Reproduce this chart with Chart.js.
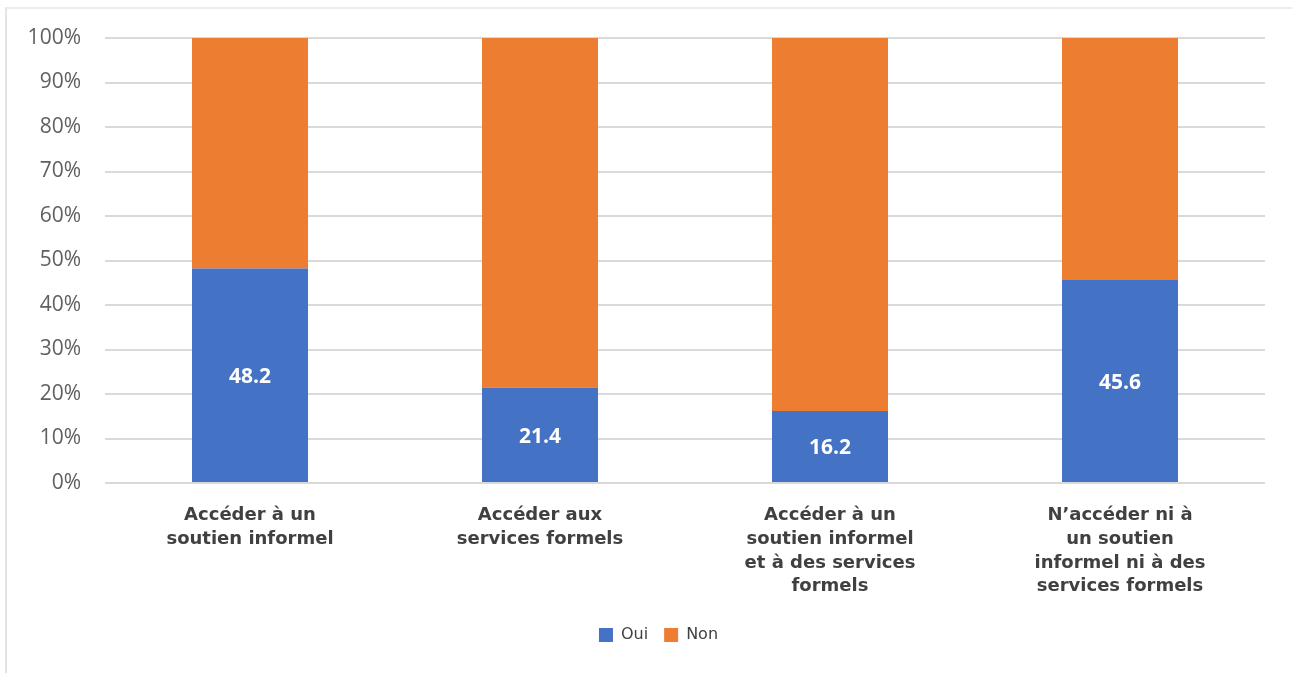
<!DOCTYPE html>
<html>
<head>
<meta charset="utf-8">
<script src="https://cdn.jsdelivr.net/npm/chart.js@4.4.1/dist/chart.umd.min.js"></script>
<style>
  html, body { margin: 0; padding: 0; background: #fff; }
  #frame {
    position: absolute;
    left: 5px;
    top: 7px;
    width: 1287px;
    height: 666px;
    border-left: 2px solid #e4e4e4;
    border-top: 2px solid #ececec;
  }
  #chart { position: absolute; left: 0; top: 0; }
</style>
</head>
<body>
<div id="frame"></div>
<canvas id="chart" width="1292" height="673"></canvas>
<script>
const categories = [
  ["Accéder à un", "soutien informel"],
  ["Accéder aux", "services formels"],
  ["Accéder à un", "soutien informel", "et à des services", "formels"],
  ["N’accéder ni à", "un soutien", "informel ni à des", "services formels"],
];
const oui = [48.2, 21.4, 16.2, 45.6];
const non = [51.8, 78.6, 83.8, 54.4];

// white value labels in the middle of the "Oui" segments
const barLabels = {
  id: "barLabels",
  afterDatasetsDraw(chart) {
    const ctx = chart.ctx;
    const meta = chart.getDatasetMeta(0);
    ctx.save();
    ctx.fillStyle = "#ffffff";
    ctx.font = "bold 21px 'Open Sans', sans-serif";
    ctx.textAlign = "center";
    ctx.textBaseline = "middle";
    meta.data.forEach((bar, i) => {
      const mid = (bar.y + bar.base) / 2 + 2;
      ctx.fillText(oui[i].toFixed(1), bar.x, mid);
    });
    ctx.restore();
  },
};

// nudge the legend a bit to the right, under the middle of the page
const legendShift = {
  id: "legendShift",
  afterLayout(chart) {
    chart.legend.left += 21;
    chart.legend.right += 21;
  },
};

new Chart(document.getElementById("chart").getContext("2d"), {
  type: "bar",
  data: {
    labels: categories,
    datasets: [
      {
        label: "Oui",
        data: oui,
        backgroundColor: "#4472C4",
        categoryPercentage: 1,
        barPercentage: 0.4,
      },
      {
        label: "Non",
        data: non,
        backgroundColor: "#ED7D31",
        categoryPercentage: 1,
        barPercentage: 0.4,
      },
    ],
  },
  options: {
    responsive: false,
    animation: false,
    layout: {
      padding: { left: 10, top: 38, right: 27, bottom: 20 },
    },
    plugins: {
      legend: {
        position: "bottom",
        labels: {
          boxWidth: 14,
          boxHeight: 14,
          padding: 16,
          color: "#404040",
          font: { family: "'DejaVu Sans', sans-serif", size: 16 },
        },
      },
      tooltip: { enabled: false },
    },
    scales: {
      x: {
        stacked: true,
        grid: { display: false },
        border: { display: false },
        ticks: {
          color: "#404040",
          padding: 12,
          maxRotation: 0,
          autoSkip: false,
          font: { family: "'DejaVu Sans', sans-serif", size: 18, weight: "bold", lineHeight: 1.33 },
        },
        afterFit(scale) {
          scale.height = 128;
        },
      },
      y: {
        stacked: true,
        min: 0,
        max: 100,
        grid: { color: "#d9d9d9", lineWidth: 2, drawTicks: false },
        border: { display: false },
        ticks: {
          stepSize: 10,
          padding: 24,
          color: "#606060",
          font: { family: "'Open Sans', sans-serif", size: 21 },
          callback: (v) => v + "%",
        },
        afterFit(scale) {
          scale.width = 95;
        },
      },
    },
  },
  plugins: [barLabels, legendShift],
});
</script>
</body>
</html>
